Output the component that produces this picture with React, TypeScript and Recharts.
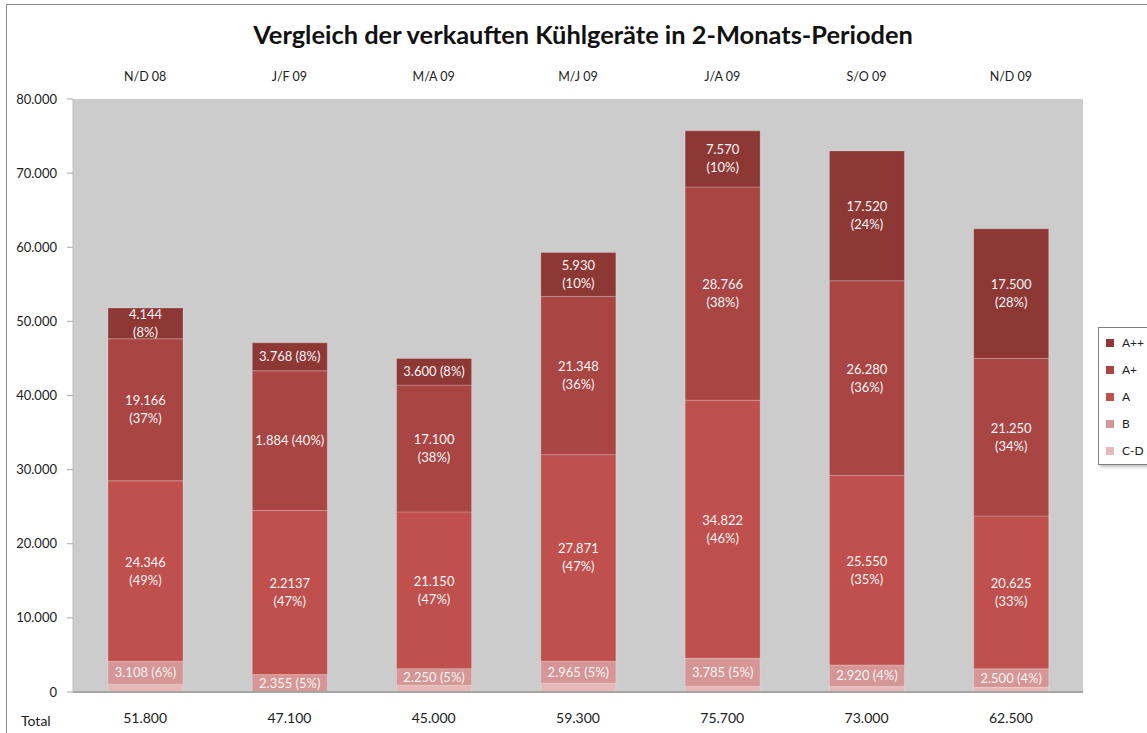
import React from "react";
import {
  Bar,
  BarChart,
  CartesianGrid,
  LabelList,
  Legend,
  XAxis,
  YAxis
} from "recharts";

const periods = ["N/D 08", "J/F 09", "M/A 09", "M/J 09", "J/A 09", "S/O 09", "N/D 09"];
const totals = [51800, 47100, 45000, 59300, 75700, 73000, 62500];

const cdValues = [1036, 0, 900, 1186, 757, 730, 625];
const bValues = [3108, 2355, 2250, 2965, 3785, 2920, 2500];
const aValues = [24346, 22137, 21150, 27871, 34822, 25550, 20625];
const apValues = [19166, 18840, 17100, 21348, 28766, 26280, 21250];
const appValues = [4144, 3768, 3600, 5930, 7570, 17520, 17500];

// label texts as printed in the original (incl. its typos)
const bLabels = ["3.108 (6%)", "2.355 (5%)", "2.250 (5%)", "2.965 (5%)", "3.785 (5%)", "2.920 (4%)", "2.500 (4%)"];
const aLabels = ["24.346\n(49%)", "2.2137\n(47%)", "21.150\n(47%)", "27.871\n(47%)", "34.822\n(46%)", "25.550\n(35%)", "20.625\n(33%)"];
const apLabels = ["19.166\n(37%)", "1.884 (40%)", "17.100\n(38%)", "21.348\n(36%)", "28.766\n(38%)", "26.280\n(36%)", "21.250\n(34%)"];
const appLabels = ["4.144\n(8%)", "3.768 (8%)", "3.600 (8%)", "5.930\n(10%)", "7.570\n(10%)", "17.520\n(24%)", "17.500\n(28%)"];

const yTicks = [0, 10000, 20000, 30000, 40000, 50000, 60000, 70000, 80000];

const series = [
  { key: "cd", name: "C-D", color: "#E6B9B8" },
  { key: "b", name: "B", color: "#D69695" },
  { key: "a", name: "A", color: "#C0504D" },
  { key: "ap", name: "A+", color: "#A94644" },
  { key: "app", name: "A++", color: "#8E3836" }
];

const data = periods.map((period, i) => ({
  period,
  total: totals[i],
  cd: cdValues[i],
  b: bValues[i],
  a: aValues[i],
  ap: apValues[i],
  app: appValues[i],
  bLbl: bLabels[i],
  aLbl: aLabels[i],
  apLbl: apLabels[i],
  appLbl: appLabels[i]
}));

const font = "Lato, 'Open Sans', sans-serif";
const fmt = (v: number) => (v === 0 ? "0" : v.toLocaleString("de-DE"));

const SegmentLabel = (props: any) => {
  const { x, y, width, height, value } = props;
  if (!value) return null;
  const lines = String(value).split("\n");
  const cx = Number(x) + Number(width) / 2;
  const cy = Number(y) + Number(height) / 2;
  const lh = 18;
  const start = cy - ((lines.length - 1) * lh) / 2;
  return (
    <text x={cx} textAnchor="middle" fill="#F4F4F4" fontSize={13} fontFamily={font}>
      {lines.map((l, k) => (
        <tspan key={k} x={cx} y={start + k * lh} dy="0.35em">
          {l}
        </tspan>
      ))}
    </text>
  );
};

const LegendBox = () => (
  <div
    style={{
      width: 60,
      height: 138,
      background: "#fff",
      border: "1px solid #7f7f7f",
      boxShadow: "2px 2px 3px rgba(0,0,0,0.25)",
      fontFamily: font,
      fontSize: 12,
      color: "#222",
      paddingTop: 1,
      boxSizing: "border-box",
      textAlign: "left"
    }}
  >
    {[...series].reverse().map((s) => (
      <div key={s.key} style={{ display: "flex", alignItems: "center", height: 27 }}>
        <span
          style={{ width: 8, height: 8, background: s.color, marginLeft: 7, marginRight: 8 }}
        />
        <span>{s.name}</span>
      </div>
    ))}
  </div>
);

export default function App() {
  return (
    <div
      style={{
        position: "absolute",
        left: 0,
        top: 0,
        width: 1147,
        height: 733,
        background: "#fff",
        overflow: "hidden"
      }}
    >
      <div
        style={{
          position: "absolute",
          left: 6,
          top: 4,
          width: 1160,
          height: 760,
          border: "1px solid #8a8a8a"
        }}
      />
      <div
        style={{
          position: "absolute",
          top: 19,
          left: 0,
          width: 1166,
          textAlign: "center",
          fontFamily: font,
          fontWeight: 700,
          fontSize: 25.4,
          color: "#111"
        }}
      >
        Vergleich der verkauften Kühlgeräte in 2-Monats-Perioden
      </div>
      <BarChart
        width={1147}
        height={733}
        data={data}
        margin={{ top: 59, right: 64, bottom: 0, left: 0 }}
        style={{ position: "absolute", left: 0, top: 0 }}
      >
        <CartesianGrid
          xAxisId="top"
          fill="#CCCCCC"
          fillOpacity={1}
          stroke="none"
          horizontal={false}
          vertical={false}
        />
        <XAxis
          xAxisId="top"
          dataKey="period"
          orientation="top"
          height={40}
          axisLine={false}
          tickLine={false}
          tickSize={0}
          tickMargin={18}
          tick={{ fill: "#222", fontSize: 12.5, fontFamily: font }}
        />
        <XAxis
          xAxisId="bottom"
          dataKey="total"
          orientation="bottom"
          height={41}
          axisLine={{ stroke: "#A6A6A6", strokeWidth: 2 }}
          tickLine={false}
          tickSize={0}
          tickMargin={21}
          tickFormatter={fmt}
          tick={{ fill: "#222", fontSize: 14, fontFamily: font }}
          label={{
            value: "Total",
            position: "insideBottomLeft",
            offset: 0,
            dx: -52,
            dy: -7,
            fill: "#222",
            fontSize: 14,
            fontFamily: font
          }}
        />
        <YAxis
          width={73}
          domain={[0, 80000]}
          ticks={yTicks}
          tickFormatter={fmt}
          axisLine={{ stroke: "#BFBFBF" }}
          tickLine={{ stroke: "#A6A6A6" }}
          tickSize={6}
          tickMargin={10}
          tick={{ fill: "#222", fontSize: 13, fontFamily: font }}
        />
        <Legend
          layout="vertical"
          align="center"
          verticalAlign="middle"
          content={<LegendBox />}
          wrapperStyle={{ left: 1098, top: 327, width: 60, height: 138 }}
        />
        {series.map((s) => (
          <Bar
            key={s.key}
            xAxisId="top"
            dataKey={s.key}
            name={s.name}
            stackId="s"
            fill={s.color}
            stroke="#ffffff"
            strokeOpacity={0.22}
            strokeWidth={1}
            barSize={75}
            isAnimationActive={false}
          >
            {s.key !== "cd" && (
              <LabelList dataKey={s.key + "Lbl"} content={<SegmentLabel />} />
            )}
          </Bar>
        ))}
      </BarChart>
    </div>
  );
}
